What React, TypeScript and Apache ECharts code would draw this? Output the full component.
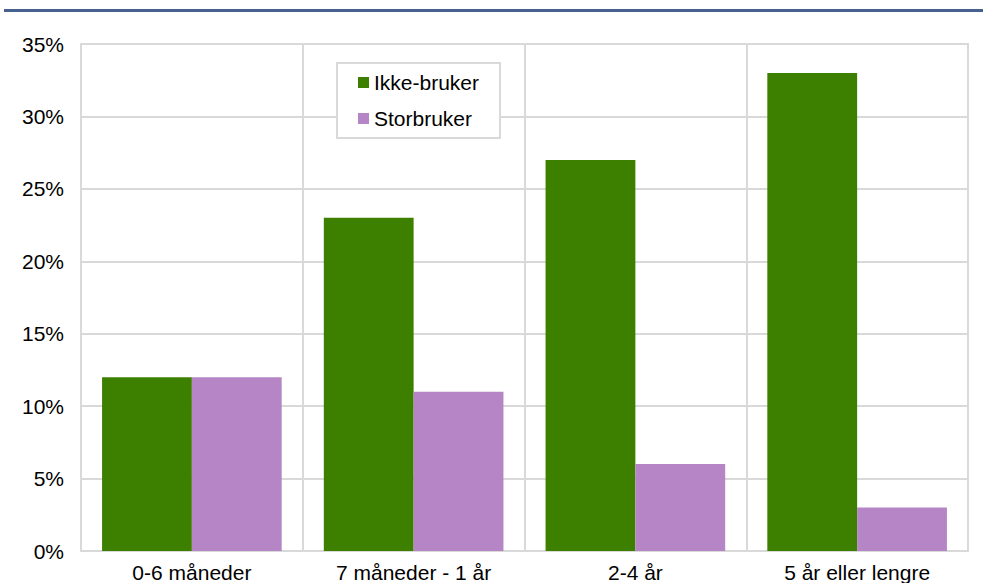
import React, { useEffect, useRef } from "react";
import * as echarts from "echarts";

const categories = ["0-6 måneder", "7 måneder - 1 år", "2-4 år", "5 år eller lengre"];
const ikkeBruker = [12, 23, 27, 33];
const storbruker = [12, 11, 6, 3];
const seriesNames = ["Ikke-bruker", "Storbruker"];

export default function App() {
  const ref = useRef<HTMLDivElement>(null);
  useEffect(() => {
    const chart = echarts.init(ref.current!, null, { renderer: "svg" });
    chart.setOption({
      animation: false,
      textStyle: { fontFamily: "Liberation Sans, Arial, sans-serif" },
      grid: { left: 81, right: 15, top: 44, bottom: 31, containLabel: false, show: true, borderColor: "#d9d9d9", borderWidth: 2 },
      graphic: [
        { type: "rect", shape: { x: 4, y: 9, width: 979, height: 3 }, style: { fill: "#46618e" } },
      ],
      legend: {
        orient: "vertical",
        left: 337,
        top: 63,
        padding: [9, 21, 9, 21],
        itemGap: 15,
        itemWidth: 11,
        itemHeight: 11,
        icon: "rect",
        backgroundColor: "#ffffff",
        borderColor: "#d9d9d9",
        borderWidth: 2,
        textStyle: { fontSize: 21, color: "#000" },
        data: seriesNames,
      },
      xAxis: {
        type: "category",
        data: categories,
        axisLine: { show: false },
        axisTick: { show: false },
        splitLine: { show: true, lineStyle: { color: "#d9d9d9", width: 2 } },
        axisLabel: { fontSize: 21, color: "#000", margin: 11 },
      },
      yAxis: {
        type: "value",
        min: 0,
        max: 35,
        interval: 5,
        axisLine: { show: false },
        axisTick: { show: false },
        splitLine: { show: true, lineStyle: { color: "#d9d9d9", width: 2 } },
        axisLabel: { fontSize: 21, color: "#000", margin: 17, formatter: "{value}%" },
      },
      series: [
        { name: seriesNames[0], type: "bar", data: ikkeBruker, barGap: "0%", barCategoryGap: "19%", itemStyle: { color: "#3d8000" } },
        { name: seriesNames[1], type: "bar", data: storbruker, barGap: "0%", barCategoryGap: "19%", itemStyle: { color: "#b585c5" } },
      ],
    });
    return () => chart.dispose();
  }, []);
  return <div ref={ref} style={{ width: 983, height: 583, position: "absolute", left: 0, top: 0 }} />;
}
